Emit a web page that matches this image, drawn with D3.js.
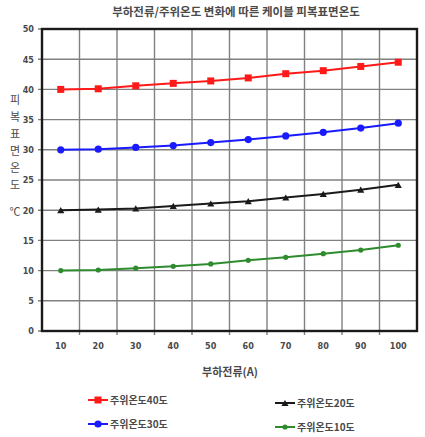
<!DOCTYPE html>
<html>
<head>
<meta charset="utf-8">
<script src="https://cdnjs.cloudflare.com/ajax/libs/d3/7.8.5/d3.min.js"></script>
<style>
  body { margin: 0; background: #fff; }
  text { font-family: "Noto Sans CJK KR", "Noto Sans", sans-serif; fill: #4a4a4a; }
</style>
</head>
<body>
<div id="chart"></div>
<script>
// data
var currents = [10, 20, 30, 40, 50, 60, 70, 80, 90, 100];
var temp40 = [40.0, 40.1, 40.6, 41.0, 41.4, 41.9, 42.6, 43.1, 43.8, 44.5];
var temp30 = [30.0, 30.1, 30.4, 30.7, 31.2, 31.7, 32.3, 32.9, 33.6, 34.4];
var temp20 = [20.0, 20.1, 20.3, 20.7, 21.1, 21.5, 22.1, 22.7, 23.4, 24.2];
var temp10 = [10.0, 10.1, 10.4, 10.7, 11.1, 11.7, 12.2, 12.8, 13.4, 14.2];
var yTicks = [0, 5, 10, 15, 20, 25, 30, 35, 40, 45, 50];
var seriesNames = ["주위온도40도", "주위온도30도", "주위온도20도", "주위온도10도"];

var series = [
  {name: seriesNames[0], values: temp40, color: "#ff1a1a", marker: "square"},
  {name: seriesNames[1], values: temp30, color: "#1a1aff", marker: "circle"},
  {name: seriesNames[2], values: temp20, color: "#1a1a1a", marker: "triangle"},
  {name: seriesNames[3], values: temp10, color: "#2e8b2e", marker: "small"}
];

var svgWidth = 425, svgHeight = 437;
var margin = {top: 29, right: 8, bottom: 106, left: 42};
var width = svgWidth - margin.left - margin.right;
var height = svgHeight - margin.top - margin.bottom;

var root = d3.select("#chart").append("svg")
  .attr("width", svgWidth)
  .attr("height", svgHeight);

root.append("text")
  .attr("x", 236).attr("y", 16)
  .attr("text-anchor", "middle")
  .style("font-size", "11.5px").style("font-weight", "bold")
  .text("부하전류/주위온도 변화에 따른 케이블 피복표면온도");

var svg = root.append("g")
  .attr("transform", "translate(" + margin.left + "," + margin.top + ")");

var x = d3.scaleBand().domain(currents).range([0, width]);
var y = d3.scaleLinear().domain([0, 50]).range([height, 0]);

// grid
svg.append("g").selectAll("line.h").data(yTicks).enter().append("line")
  .attr("x1", -4).attr("x2", width)
  .attr("y1", function(d) { return y(d); }).attr("y2", function(d) { return y(d); })
  .attr("stroke", "#808080").attr("stroke-width", 1.4);
svg.append("g").selectAll("line.v").data(currents.slice(1)).enter().append("line")
  .attr("x1", function(d) { return x(d); }).attr("x2", function(d) { return x(d); })
  .attr("y1", 0).attr("y2", height + 4)
  .attr("stroke", "#808080").attr("stroke-width", 1.4);

svg.append("rect")
  .attr("width", width).attr("height", height)
  .attr("fill", "none").attr("stroke", "#1a1a1a").attr("stroke-width", 2.4);

// axes labels
var yAxis = svg.append("g").call(d3.axisLeft(y).tickValues(yTicks).tickSize(0).tickPadding(8));
yAxis.select(".domain").remove();
yAxis.selectAll("text").style("font-size", "9px").style("font-weight", "bold")
  .style("font-family", "'Liberation Sans Narrow', 'DejaVu Sans Condensed', sans-serif").attr("fill", "#444");

var xAxis = svg.append("g").attr("transform", "translate(0," + height + ")")
  .call(d3.axisBottom(x).tickSize(0).tickPadding(12));
xAxis.select(".domain").remove();
xAxis.selectAll("text").style("font-size", "9px").style("font-weight", "bold")
  .style("font-family", "'Liberation Sans Narrow', 'DejaVu Sans Condensed', sans-serif").attr("fill", "#444");

svg.append("text")
  .attr("x", 188).attr("y", height + 45)
  .attr("text-anchor", "middle")
  .style("font-size", "11px").style("font-weight", "bold")
  .text("부하전류(A)");

// vertical y label
var yLabelChars = ["피", "복", "표", "면", "온", "도"];
root.append("g").selectAll("text").data(yLabelChars).enter().append("text")
  .attr("x", 15).attr("y", function(d, i) { return 104 + i * 17; })
  .attr("text-anchor", "middle")
  .style("font-size", "11px")
  .text(function(d) { return d; });
root.append("text").attr("x", 15).attr("y", 216).attr("text-anchor", "middle")
  .style("font-size", "11px").text("℃");

var line = d3.line()
  .x(function(d, i) { return x(currents[i]) + x.bandwidth() / 2; })
  .y(function(d) { return y(d); });

function drawMarker(g, type, color, cx, cy) {
  if (type === "square") {
    g.append("rect").attr("x", cx - 3.5).attr("y", cy - 3.5).attr("width", 7).attr("height", 7).attr("fill", color);
  } else if (type === "circle") {
    g.append("circle").attr("cx", cx).attr("cy", cy).attr("r", 3.6).attr("fill", color);
  } else if (type === "triangle") {
    g.append("path").attr("d", d3.symbol().type(d3.symbolTriangle).size(22)()).attr("transform", "translate(" + cx + "," + (cy + 1) + ")").attr("fill", color);
  } else {
    g.append("circle").attr("cx", cx).attr("cy", cy).attr("r", 2.6).attr("fill", color);
  }
}

series.forEach(function(s) {
  svg.append("path").datum(s.values)
    .attr("d", line).attr("fill", "none")
    .attr("stroke", s.color).attr("stroke-width", 2);
  var g = svg.append("g");
  s.values.forEach(function(v, i) {
    drawMarker(g, s.marker, s.color, x(currents[i]) + x.bandwidth() / 2, y(v));
  });
});

// legend
var legendPos = [[88, 400], [88, 424], [275, 403], [275, 427]];
series.forEach(function(s, i) {
  var g = root.append("g").attr("transform", "translate(" + legendPos[i][0] + "," + legendPos[i][1] + ")");
  g.append("line").attr("x1", 0).attr("x2", 20).attr("y1", 0).attr("y2", 0)
    .attr("stroke", s.color).attr("stroke-width", 2);
  drawMarker(g, s.marker, s.color, 10, 0);
  g.append("text").attr("x", 22).attr("y", 4)
    .style("font-size", "10px").style("font-weight", "bold")
    .text(s.name);
});
</script>
</body>
</html>
